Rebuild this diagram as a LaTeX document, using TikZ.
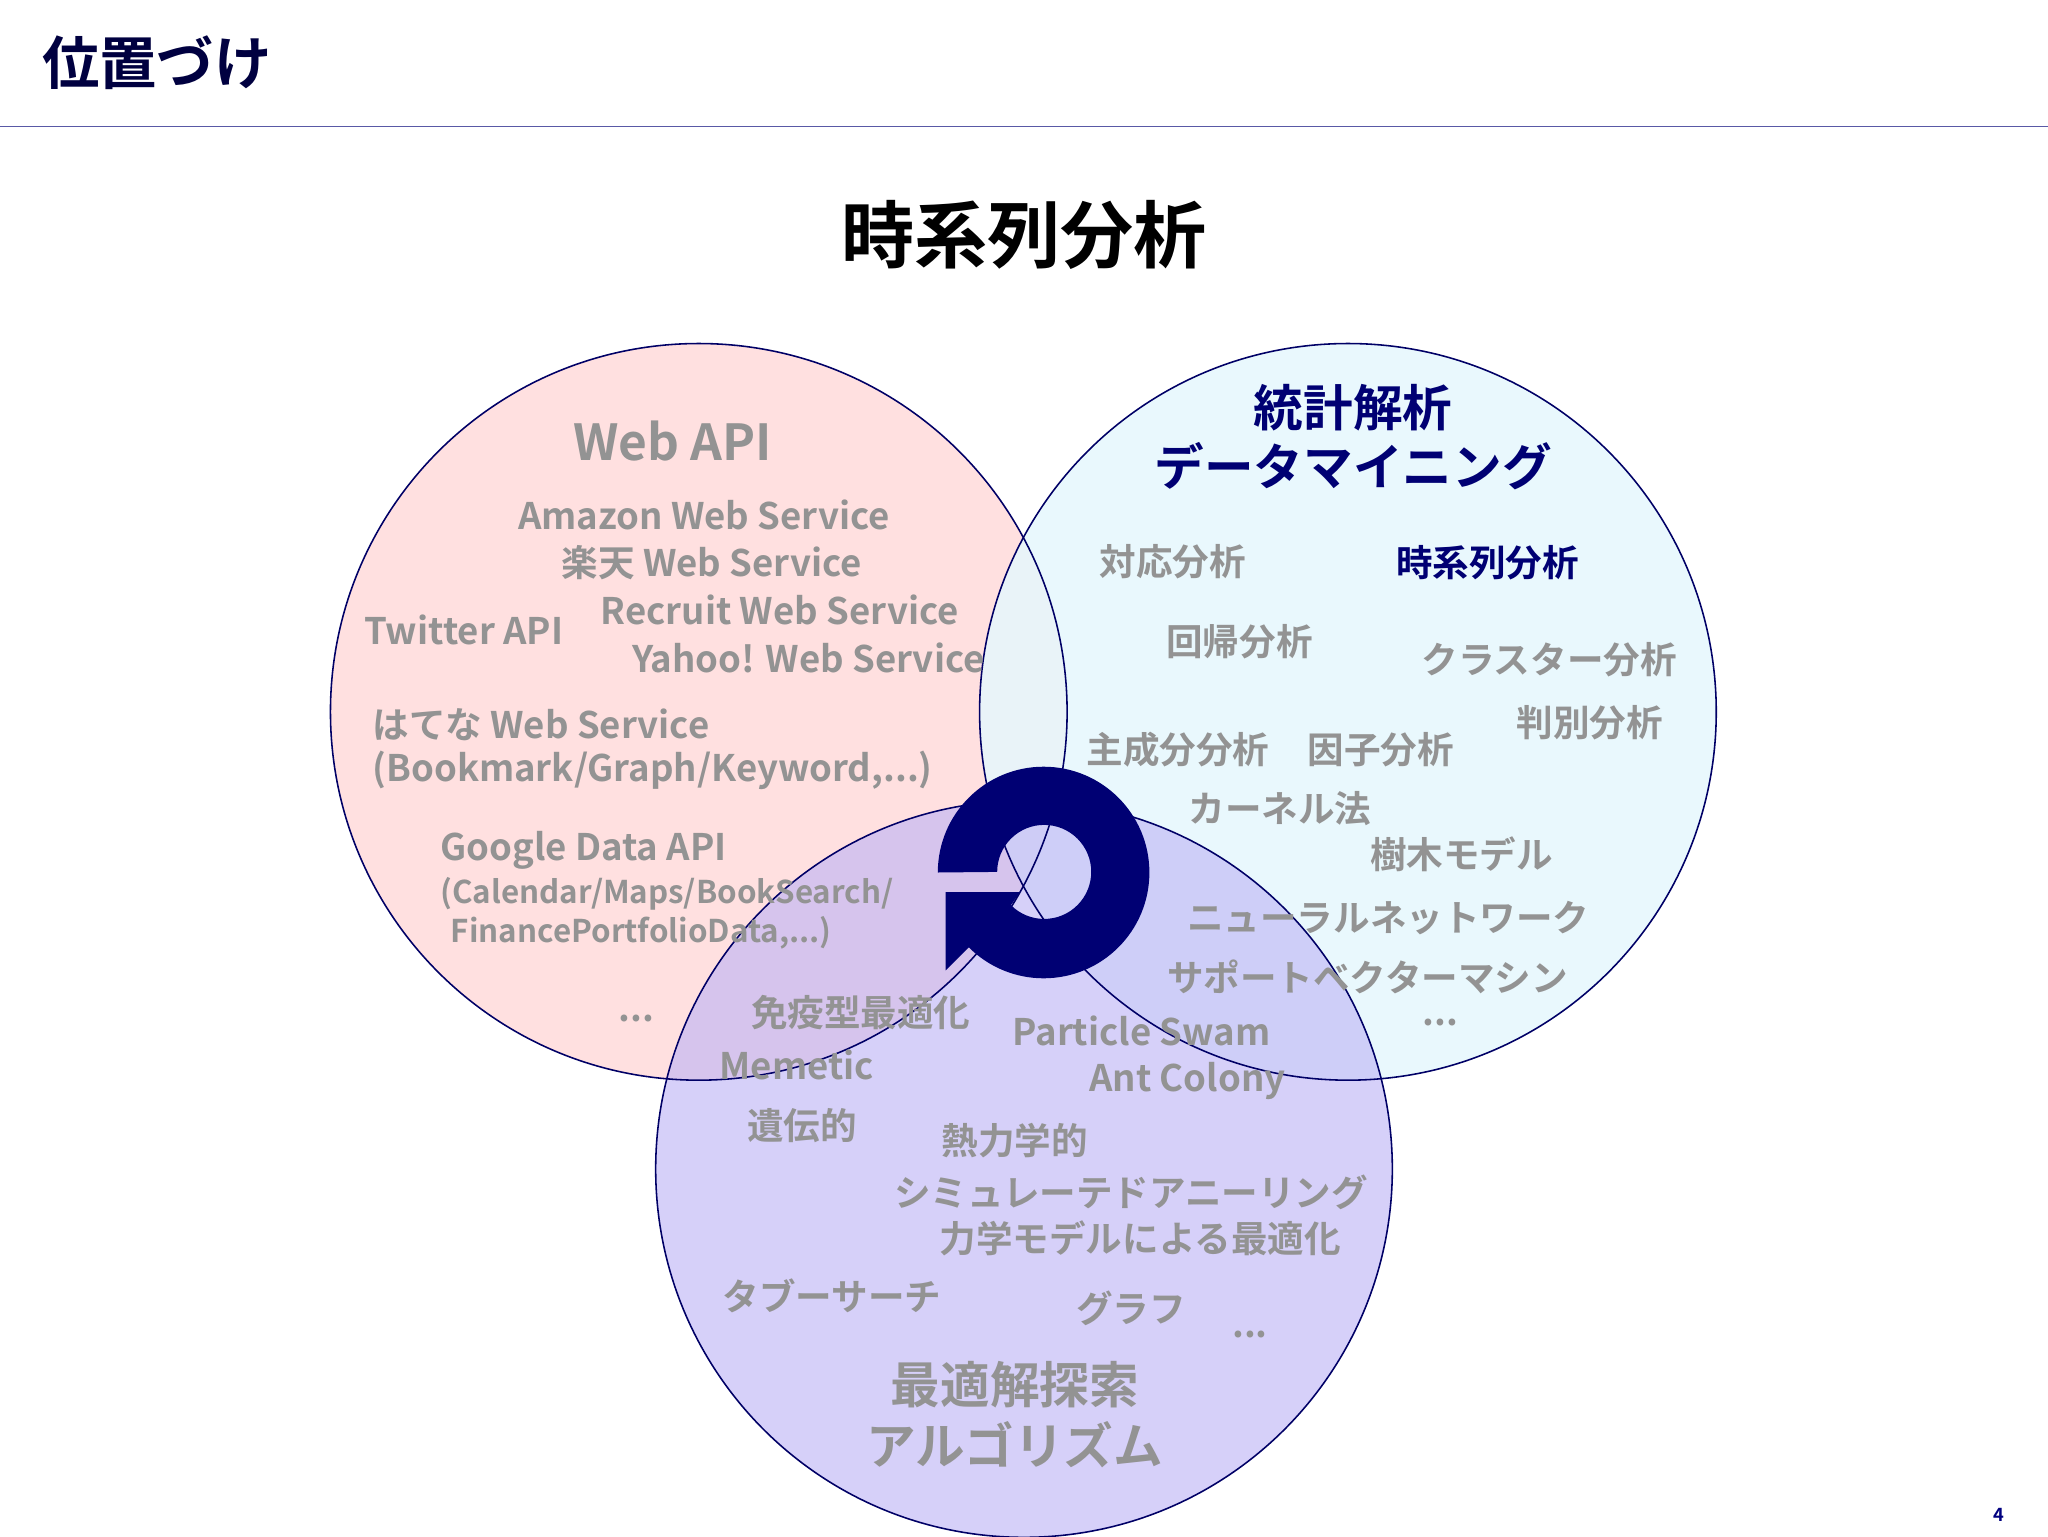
\documentclass[tikz,border=0pt]{standalone}
\usepackage{fontspec}
\setmainfont{Noto Sans CJK JP}[BoldFont={Noto Sans CJK JP Bold}]
\begin{document}
\begin{tikzpicture}[x=1pt,y=-1pt,
  it/.style={text=gray!85,font=\bfseries\fontsize{28}{30}\selectfont,inner sep=0pt},
  itl/.style={it,anchor=west},
  sm/.style={itl,font=\bfseries\fontsize{24}{26}\selectfont},
  big/.style={inner sep=0pt,font=\bfseries\fontsize{38}{40}\selectfont},
  circ/.style={draw=blue!40!black,line width=1.2pt}]
\useasboundingbox (0,0) rectangle (1568,1176);
\fill[white] (0,0) rectangle (1568,1176);
\node[anchor=west,inner sep=0pt,text=black!75!blue,font=\bfseries\fontsize{44}{46}\selectfont] (hdr) at (32,48) {位置づけ};
\draw[color=blue!30!gray,line width=0.8pt] (0,97) -- (1568,97);
\node[inner sep=0pt,font=\bfseries\fontsize{56}{58}\selectfont] (ttl) at (784,180) {時系列分析};
\node[inner sep=0pt,text=blue!50!black,font=\bfseries\fontsize{14}{16}\selectfont] (pg) at (1530,1160) {4};
% circles
\fill[red!12] (535,545) circle (282);
\fill[cyan!10,fill opacity=0.85] (1032,545) circle (282);
\fill[blue!75!violet!30,fill opacity=0.6] (784,895) circle (282);
\draw[circ] (535,545) circle (282);
\draw[circ] (1032,545) circle (282);
\draw[circ] (784,895) circle (282);
% cycle icon
\fill[blue!45!black] (718,668) arc[start angle=180,end angle=495,radius=81]
  -- (724,743) -- (724,683) -- (781,683) -- (774,693)
  arc[start angle=135,end angle=-180,radius=36] -- cycle;
% left
\node[big,text=gray!85] (wa) at (515,338) {Web API};
\node[it] (a1) at (539,394) {Amazon Web Service};
\node[it] (a2) at (545,431) {楽天 Web Service};
\node[it] (a3) at (597,467) {Recruit Web Service};
\node[it] (a4) at (619,504) {Yahoo! Web Service};
\node[it] (a5) at (355,482) {Twitter API};
\node[itl] (a6) at (285,555) {はてな Web Service};
\node[itl] (a7) at (285,590) {(Bookmark/Graph/Keyword,...)};
\node[itl] (a8) at (337,651) {Google Data API};
\node[sm] (a9) at (337,684) {(Calendar/Maps/BookSearch/};
\node[sm] (a10) at (345,714) {FinancePortfolioData,...)};
\node[it] (a11) at (487,780) {...};
% right
\node[big,text=blue!45!black] (st1) at (1036,312) {統計解析};
\node[big,text=blue!45!black] (st2) at (1036,357) {データマイニング};
\node[it] (b1) at (898,430) {対応分析};
\node[it,text=blue!45!black] (b2) at (1139,431) {時系列分析};
\node[it] (b3) at (949,491) {回帰分析};
\node[it] (b4) at (1186,505) {クラスター分析};
\node[it] (b5) at (1217,553) {判別分析};
\node[it] (b6) at (902,574) {主成分分析};
\node[it] (b7) at (1057,574) {因子分析};
\node[it] (b8) at (980,619) {カーネル法};
\node[it] (b9) at (1119,654) {樹木モデル};
\node[it] (b10) at (1063,703) {ニューラルネットワーク};
\node[it] (b11) at (1047,748) {サポートベクターマシン};
\node[it] (b12) at (1103,783) {...};
% bottom
\node[it] (c1) at (659,775) {免疫型最適化};
\node[it] (c2) at (610,815) {Memetic};
\node[it] (c3) at (874,789) {Particle Swam};
\node[it] (c4) at (909,828) {Ant Colony};
\node[it] (c5) at (614,862) {遺伝的};
\node[it] (c6) at (777,873) {熱力学的};
\node[it] (c7) at (866,913) {シミュレーテドアニーリング};
\node[it] (c8) at (873,948) {力学モデルによる最適化};
\node[it] (c9) at (637,992) {タブーサーチ};
\node[it] (c10) at (866,1002) {グラフ};
\node[it] (c11) at (957,1022) {...};
\node[big,text=gray!85] (op1) at (777,1060) {最適解探索};
\node[big,text=gray!85] (op2) at (777,1106) {アルゴリズム};
\end{tikzpicture}
\end{document}
